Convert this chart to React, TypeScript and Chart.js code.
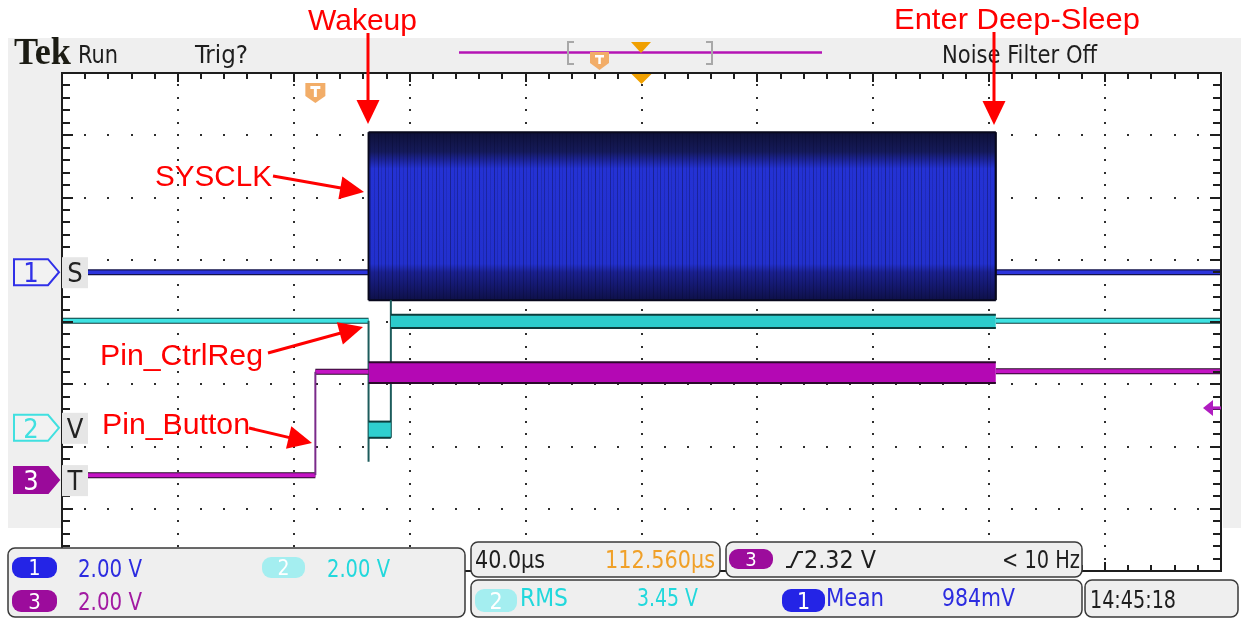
import React, { useEffect, useRef } from 'react';
import { Chart, registerables } from 'chart.js';

Chart.register(...registerables);

// ---------------- scope settings ----------------
const TIME_PER_DIV_US = 40;
const H_DIVS = 10;
const V_DIVS = 8;
const MINOR_PER_DIV = 5;
const VOLTS_PER_DIV = 2;
const T_MIN = -(TIME_PER_DIV_US * H_DIVS) / 2;
const T_MAX = (TIME_PER_DIV_US * H_DIVS) / 2;
const EXPANSION_POINT_US = 0;
const TRIGGER_TIME_US = -112.56;
const TRIGGER_LEVEL_V = 2.32;

// channel ground positions (divisions from screen centre)
const CH1_POS_DIV = 0.8;
const CH2_POS_DIV = -1.7;
const CH3_POS_DIV = -2.54;

// ---------------- Channel 1 : SYSCLK ----------------
const CH1_IDLE_T = [-200, 200];
const CH1_IDLE_V = [0, 0];
const CH1_BURST_T = [-94.2, 122.3];
const CH1_BURST_MAX_V = [4.5, 4.5];
const CH1_BURST_MIN_V = [-0.9, -0.9];
const CH1_BURST_CORE_MAX_V = [3.6, 3.6];
const CH1_BURST_CORE_MIN_V = [0.0, 0.0];

// ---------------- Channel 2 : Pin_CtrlReg ----------------
const CH2_BEFORE_T = [-200, -94.2];
const CH2_BEFORE_V = [3.44, 3.44];
const CH2_FALL_T = [-94.2, -94.2];
const CH2_FALL_V = [3.44, -1.09];
const CH2_LOW_T = [-94.2, -86.5];
const CH2_LOW_MAX_V = [0.2, 0.2];
const CH2_LOW_MIN_V = [-0.32, -0.32];
const CH2_RISE_T = [-86.5, -86.5];
const CH2_RISE_V = [-0.32, 4.11];
const CH2_ACTIVE_T = [-86.5, 122.3];
const CH2_ACTIVE_MAX_V = [3.63, 3.63];
const CH2_ACTIVE_MIN_V = [3.21, 3.21];
const CH2_AFTER_T = [122.3, 200];
const CH2_AFTER_V = [3.44, 3.44];

// ---------------- Channel 3 : Pin_Button ----------------
const CH3_BEFORE_T = [-200, -112.56];
const CH3_BEFORE_V = [0.16, 0.16];
const CH3_RISE_T = [-112.56, -112.56];
const CH3_RISE_V = [0.16, 3.48];
const CH3_HIGH_T = [-112.56, -94.2];
const CH3_HIGH_V = [3.48, 3.48];
const CH3_ACTIVE_T = [-94.2, 122.3];
const CH3_ACTIVE_MAX_V = [3.79, 3.79];
const CH3_ACTIVE_MIN_V = [3.12, 3.12];
const CH3_AFTER_T = [122.3, 200];
const CH3_AFTER_V = [3.5, 3.5];

// ---------------- layout ----------------
const W = 1241;
const H = 619;
const PLOT = { left: 62, top: 73, right: 1221, bottom: 571 };
const SCOPE_FONT = "'DejaVu Sans Condensed', 'DejaVu Sans', sans-serif";
const ANNOT_FONT = "'Liberation Sans', Arial, sans-serif";
const RED = '#ff0000';

const pyDiv = (d: number) => PLOT.top + ((V_DIVS / 2 - d) / V_DIVS) * (PLOT.bottom - PLOT.top);

const seg = (ts: number[], vs: number[], pos: number) =>
  ts.map((t, i) => ({ x: t, y: pos + vs[i] / VOLTS_PER_DIV }));

function makeStripePattern(ctx: CanvasRenderingContext2D) {
  const c = document.createElement('canvas');
  c.width = 29;
  c.height = 4;
  const g = c.getContext('2d')!;
  const cols: [number, number][] = [
    [1, 0.35], [4, 0.15], [8, 0.3], [11, 0.12], [15, 0.4], [19, 0.18], [22, 0.3], [26, 0.15],
  ];
  cols.forEach(([x, a]) => {
    g.fillStyle = `rgba(8,10,50,${a})`;
    g.fillRect(x, 0, 1, 4);
  });
  return ctx.createPattern(c, 'repeat');
}

const scopePlugin = {
  id: 'scopeGraticule',
  beforeDraw(chart: any) {
    const { ctx, chartArea: a } = chart;
    ctx.save();
    ctx.fillStyle = '#ffffff';
    ctx.fillRect(a.left, a.top, a.right - a.left, a.bottom - a.top);
    ctx.restore();
  },
  beforeDatasetsDraw(chart: any) {
    const { ctx, scales } = chart;
    const x = scales.x;
    const y = scales.y;
    ctx.save();
    ctx.fillStyle = '#2e2e2e';
    const minorT = TIME_PER_DIV_US / MINOR_PER_DIV;
    const minorD = 1 / MINOR_PER_DIV;
    for (let i = 1; i < H_DIVS; i++) {
      const xp = Math.round(x.getPixelForValue(T_MIN + i * TIME_PER_DIV_US));
      for (let j = 1; j < V_DIVS * MINOR_PER_DIV; j++) {
        const yp = Math.round(y.getPixelForValue(-V_DIVS / 2 + j * minorD));
        ctx.fillRect(xp - 1, yp - 1, 2, 2);
      }
    }
    for (let j = 1; j < V_DIVS; j++) {
      const yp = Math.round(y.getPixelForValue(-V_DIVS / 2 + j));
      for (let i = 1; i < H_DIVS * MINOR_PER_DIV; i++) {
        const xp = Math.round(x.getPixelForValue(T_MIN + i * minorT));
        ctx.fillRect(xp - 1, yp - 1, 2, 2);
      }
    }
    ctx.restore();
  },
  afterDatasetsDraw(chart: any) {
    const { ctx, chartArea: a, scales } = chart;
    const x = scales.x;
    const y = scales.y;
    ctx.save();
    ctx.strokeStyle = '#1e1e1e';
    ctx.lineWidth = 2;
    ctx.beginPath();
    const minorT = TIME_PER_DIV_US / MINOR_PER_DIV;
    for (let i = 1; i < H_DIVS * MINOR_PER_DIV; i++) {
      const xp = Math.round(x.getPixelForValue(T_MIN + i * minorT));
      const len = i % MINOR_PER_DIV === 0 ? 9 : 6;
      ctx.moveTo(xp, a.top);
      ctx.lineTo(xp, a.top + len);
      ctx.moveTo(xp, a.bottom);
      ctx.lineTo(xp, a.bottom - len);
    }
    for (let j = 1; j < V_DIVS * MINOR_PER_DIV; j++) {
      const yp = Math.round(y.getPixelForValue(-V_DIVS / 2 + j / MINOR_PER_DIV));
      const len = j % MINOR_PER_DIV === 0 ? 11 : 8;
      ctx.moveTo(a.left, yp);
      ctx.lineTo(a.left + len, yp);
      ctx.moveTo(a.right, yp);
      ctx.lineTo(a.right - len, yp);
    }
    ctx.stroke();
    ctx.strokeRect(a.left, a.top, a.right - a.left, a.bottom - a.top);

    // expansion point triangle
    const xe = x.getPixelForValue(EXPANSION_POINT_US);
    ctx.fillStyle = '#f0a000';
    ctx.beginPath();
    ctx.moveTo(xe - 10, a.top + 1);
    ctx.lineTo(xe + 10, a.top + 1);
    ctx.lineTo(xe, a.top + 11);
    ctx.closePath();
    ctx.fill();

    // trigger position marker
    const xt = x.getPixelForValue(TRIGGER_TIME_US);
    const t0 = a.top + 10;
    ctx.fillStyle = '#f2ad68';
    ctx.beginPath();
    ctx.moveTo(xt - 10, t0);
    ctx.lineTo(xt + 10, t0);
    ctx.lineTo(xt + 10, t0 + 13);
    ctx.lineTo(xt, t0 + 20);
    ctx.lineTo(xt - 10, t0 + 13);
    ctx.closePath();
    ctx.fill();
    ctx.fillStyle = '#ffffff';
    ctx.fillRect(xt - 5, t0 + 3, 10, 3);
    ctx.fillRect(xt - 1.5, t0 + 3, 3, 11);

    // trigger level arrow (channel 3)
    const yl = y.getPixelForValue(CH3_POS_DIV + TRIGGER_LEVEL_V / VOLTS_PER_DIV);
    ctx.fillStyle = '#b01cc0';
    ctx.beginPath();
    ctx.moveTo(a.right - 18, yl);
    ctx.lineTo(a.right - 8, yl - 8);
    ctx.lineTo(a.right - 8, yl + 8);
    ctx.closePath();
    ctx.fill();
    ctx.fillRect(a.right - 9, yl - 1.5, 9, 3);
    ctx.restore();
  },
};

const Txt = ({ x, y, w, size = 24, fill = '#1e1e1e', family = SCOPE_FONT, weight = 'normal', children }: any) => (
  <text
    x={x}
    y={y}
    textLength={w}
    lengthAdjust="spacingAndGlyphs"
    fontSize={size}
    fill={fill}
    fontFamily={family}
    fontWeight={weight}
  >
    {children}
  </text>
);

const Pill = ({ x, y, w, h, fill, label }: any) => (
  <g>
    <rect x={x} y={y} width={w} height={h} rx={9} ry={9} fill={fill} />
    <text x={x + w / 2} y={y + h - 3} textAnchor="middle" fontSize={h} fill="#ffffff" fontFamily={SCOPE_FONT}>
      {label}
    </text>
  </g>
);

const Arrow = ({ x1, y1, x2, y2, head = 24, width = 23 }: any) => {
  const dx = x2 - x1;
  const dy = y2 - y1;
  const L = Math.hypot(dx, dy);
  const ux = dx / L;
  const uy = dy / L;
  const bx = x2 - ux * head;
  const by = y2 - uy * head;
  const nx = (-uy * width) / 2;
  const ny = (ux * width) / 2;
  return (
    <g>
      <line x1={x1} y1={y1} x2={bx + ux * 2} y2={by + uy * 2} stroke={RED} strokeWidth={3} />
      <polygon points={`${x2},${y2} ${bx + nx},${by + ny} ${bx - nx},${by - ny}`} fill={RED} />
    </g>
  );
};

const ChMarker = ({ ch, yc, color, filled, label }: any) => {
  const top = yc - 13;
  const bot = yc + 13;
  return (
    <g>
      <polygon
        points={`14,${top} 48,${top} 59,${yc} 48,${bot} 14,${bot}`}
        fill={filled ? color : '#f2f2f2'}
        stroke={color}
        strokeWidth={2}
      />
      <text x={31} y={yc + 10} textAnchor="middle" fontSize={27} fill={filled ? '#ffffff' : color} fontFamily={SCOPE_FONT}>
        {ch}
      </text>
      <rect x={62} y={yc - 15} width={26} height={31} fill="#e6e6e6" />
      <text x={75} y={yc + 10} textAnchor="middle" fontSize={27} fill="#222222" fontFamily={SCOPE_FONT}>
        {label}
      </text>
    </g>
  );
};

export default function App() {
  const canvasRef = useRef<HTMLCanvasElement>(null);

  useEffect(() => {
    const canvas = canvasRef.current;
    if (!canvas) return;
    const c2d = canvas.getContext('2d')!;
    const stripes = makeStripePattern(c2d);

    const burstFill = (ctx: any) => {
      const chart = ctx.chart;
      if (!chart.chartArea) return '#2230c8';
      const ys = chart.scales.y;
      const yTop = ys.getPixelForValue(CH1_POS_DIV + CH1_BURST_MAX_V[0] / VOLTS_PER_DIV);
      const yBot = ys.getPixelForValue(CH1_POS_DIV + CH1_BURST_MIN_V[0] / VOLTS_PER_DIV);
      const yc1 = ys.getPixelForValue(CH1_POS_DIV + CH1_BURST_CORE_MAX_V[0] / VOLTS_PER_DIV);
      const yc2 = ys.getPixelForValue(CH1_POS_DIV + CH1_BURST_CORE_MIN_V[0] / VOLTS_PER_DIV);
      const f1 = (yc1 - yTop) / (yBot - yTop);
      const f2 = (yc2 - yTop) / (yBot - yTop);
      const g = chart.ctx.createLinearGradient(0, yTop, 0, yBot);
      g.addColorStop(0, '#0e1038');
      g.addColorStop(f1 * 0.7, '#151a5a');
      g.addColorStop(f1, '#1c2498');
      g.addColorStop(f1 + 0.05, '#2432d4');
      g.addColorStop(f2 - 0.05, '#2230ce');
      g.addColorStop(f2, '#1a2090');
      g.addColorStop(1, '#0e1048');
      return g;
    };

    const ds: any[] = [];
    const add = (d: any) => {
      ds.push({
        type: 'line',
        pointRadius: 0,
        pointHoverRadius: 0,
        tension: 0,
        fill: false,
        borderCapStyle: 'butt',
        borderJoinStyle: 'miter',
        ...d,
      });
      return ds.length - 1;
    };

    // channel 1 idle
    add({ data: seg(CH1_IDLE_T, CH1_IDLE_V, CH1_POS_DIV), borderColor: '#12124a', borderWidth: 6, order: 100 });
    add({ data: seg(CH1_IDLE_T, CH1_IDLE_V, CH1_POS_DIV), borderColor: '#2c34dc', borderWidth: 3.5, order: 99 });
    // channel 1 burst
    const burstTop = add({ data: seg(CH1_BURST_T, CH1_BURST_MAX_V, CH1_POS_DIV), borderColor: '#08081c', borderWidth: 2, order: 94 });
    add({
      data: seg(CH1_BURST_T, CH1_BURST_MIN_V, CH1_POS_DIV),
      borderColor: '#08081c',
      borderWidth: 2,
      fill: burstTop,
      backgroundColor: burstFill,
      order: 97,
    });
    add({
      data: seg(CH1_BURST_T, CH1_BURST_MIN_V, CH1_POS_DIV),
      borderColor: 'rgba(0,0,0,0)',
      borderWidth: 0,
      fill: burstTop,
      backgroundColor: stripes || 'rgba(0,0,0,0)',
      order: 96,
    });
    add({
      data: seg([CH1_BURST_T[0], CH1_BURST_T[0]], [CH1_BURST_MIN_V[0], CH1_BURST_MAX_V[0]], CH1_POS_DIV),
      borderColor: '#08081c',
      borderWidth: 2,
      order: 93,
    });
    add({
      data: seg([CH1_BURST_T[1], CH1_BURST_T[1]], [CH1_BURST_MIN_V[1], CH1_BURST_MAX_V[1]], CH1_POS_DIV),
      borderColor: '#08081c',
      borderWidth: 2,
      order: 93,
    });

    // channel 2
    const cyanDark = '#0c3c3c';
    const cyan = '#3ee2e2';
    add({ data: seg(CH2_BEFORE_T, CH2_BEFORE_V, CH2_POS_DIV), borderColor: cyanDark, borderWidth: 6, order: 80 });
    add({ data: seg(CH2_BEFORE_T, CH2_BEFORE_V, CH2_POS_DIV), borderColor: cyan, borderWidth: 4, order: 79 });
    add({ data: seg(CH2_AFTER_T, CH2_AFTER_V, CH2_POS_DIV), borderColor: cyanDark, borderWidth: 6, order: 80 });
    add({ data: seg(CH2_AFTER_T, CH2_AFTER_V, CH2_POS_DIV), borderColor: cyan, borderWidth: 4, order: 79 });
    add({ data: seg(CH2_FALL_T, CH2_FALL_V, CH2_POS_DIV), borderColor: '#1d5c5c', borderWidth: 2, order: 78 });
    add({ data: seg(CH2_RISE_T, CH2_RISE_V, CH2_POS_DIV), borderColor: '#1d5c5c', borderWidth: 2, order: 78 });
    const lowTop = add({ data: seg(CH2_LOW_T, CH2_LOW_MAX_V, CH2_POS_DIV), borderColor: cyanDark, borderWidth: 2, order: 75 });
    add({
      data: seg(CH2_LOW_T, CH2_LOW_MIN_V, CH2_POS_DIV),
      borderColor: cyanDark,
      borderWidth: 2,
      fill: lowTop,
      backgroundColor: '#2fcfcf',
      order: 76,
    });
    const actTop = add({ data: seg(CH2_ACTIVE_T, CH2_ACTIVE_MAX_V, CH2_POS_DIV), borderColor: cyanDark, borderWidth: 2, order: 75 });
    add({
      data: seg(CH2_ACTIVE_T, CH2_ACTIVE_MIN_V, CH2_POS_DIV),
      borderColor: cyanDark,
      borderWidth: 2,
      fill: actTop,
      backgroundColor: '#2ccccc',
      order: 76,
    });

    // channel 3
    const magDark = '#2a0a2a';
    const mag = '#c414c4';
    add({ data: seg(CH3_BEFORE_T, CH3_BEFORE_V, CH3_POS_DIV), borderColor: magDark, borderWidth: 6, order: 70 });
    add({ data: seg(CH3_BEFORE_T, CH3_BEFORE_V, CH3_POS_DIV), borderColor: mag, borderWidth: 4, order: 69 });
    add({ data: seg(CH3_HIGH_T, CH3_HIGH_V, CH3_POS_DIV), borderColor: magDark, borderWidth: 6, order: 70 });
    add({ data: seg(CH3_HIGH_T, CH3_HIGH_V, CH3_POS_DIV), borderColor: mag, borderWidth: 4, order: 69 });
    add({ data: seg(CH3_AFTER_T, CH3_AFTER_V, CH3_POS_DIV), borderColor: magDark, borderWidth: 6, order: 70 });
    add({ data: seg(CH3_AFTER_T, CH3_AFTER_V, CH3_POS_DIV), borderColor: mag, borderWidth: 4, order: 69 });
    add({ data: seg(CH3_RISE_T, CH3_RISE_V, CH3_POS_DIV), borderColor: '#7a2a8a', borderWidth: 2, order: 68 });
    const m3Top = add({ data: seg(CH3_ACTIVE_T, CH3_ACTIVE_MAX_V, CH3_POS_DIV), borderColor: magDark, borderWidth: 2, order: 65 });
    add({
      data: seg(CH3_ACTIVE_T, CH3_ACTIVE_MIN_V, CH3_POS_DIV),
      borderColor: magDark,
      borderWidth: 2,
      fill: m3Top,
      backgroundColor: '#b408b4',
      order: 66,
    });

    const chart = new Chart(canvas, {
      type: 'line',
      data: { datasets: ds },
      options: {
        animation: false,
        responsive: false,
        maintainAspectRatio: false,
        devicePixelRatio: 1,
        layout: {
          padding: { left: PLOT.left, top: PLOT.top, right: W - PLOT.right, bottom: H - PLOT.bottom },
        },
        scales: {
          x: { type: 'linear', min: T_MIN, max: T_MAX, display: false },
          y: { type: 'linear', min: -V_DIVS / 2, max: V_DIVS / 2, display: false },
        },
        plugins: { legend: { display: false }, tooltip: { enabled: false } },
        events: [],
      },
      plugins: [scopePlugin],
    } as any);
    return () => chart.destroy();
  }, []);

  const gray = '#efefef';
  const boxStroke = '#3a3a3a';

  return (
    <div style={{ position: 'absolute', left: 0, top: 0, width: W, height: H, background: '#ffffff', overflow: 'hidden' }}>
      <canvas ref={canvasRef} width={W} height={H} style={{ position: 'absolute', left: 0, top: 0, width: W, height: H }} />
      <svg width={W} height={H} style={{ position: 'absolute', left: 0, top: 0, pointerEvents: 'none' }}>
        {/* scope frame background */}
        <rect x={8} y={38} width={W - 8} height={34} fill={gray} />
        <rect x={8} y={38} width={53} height={490} fill={gray} />
        <rect x={1223} y={38} width={18} height={490} fill={gray} />

        {/* top status bar */}
        <Txt x={14} y={64} w={57} size={37} weight="bold" family="'Liberation Serif', 'DejaVu Serif', serif" fill="#1c1c14">
          Tek
        </Txt>
        <Txt x={78} y={63} w={40} weight="500">Run</Txt>
        <Txt x={195} y={63} w={53} weight="500">Trig?</Txt>
        <line x1={459} y1={52.5} x2={822} y2={52.5} stroke="#b414b4" strokeWidth={2.5} />
        <path d="M574,42 L568,42 L568,64 L574,64" stroke="#a8a8a8" strokeWidth={2} fill="none" />
        <path d="M706,42 L712,42 L712,64 L706,64" stroke="#a8a8a8" strokeWidth={2} fill="none" />
        <polygon points="590,52 609,52 609,63 599.5,70 590,63" fill="#f2ad68" />
        <rect x={595} y={55} width={9} height={2.5} fill="#ffffff" />
        <rect x={598.3} y={55} width={2.5} height={9} fill="#ffffff" />
        <polygon points="631,42 651,42 641,53" fill="#f0a000" />
        <Txt x={942} y={63} w={155}>Noise Filter Off</Txt>

        {/* channel markers */}
        <ChMarker ch="1" yc={pyDiv(CH1_POS_DIV)} color="#3030e8" label="S" />
        <ChMarker ch="2" yc={pyDiv(CH2_POS_DIV)} color="#40e0e0" label="V" />
        <ChMarker ch="3" yc={pyDiv(CH3_POS_DIV)} color="#9a0a9a" filled label="T" />

        {/* bottom readouts */}
        <rect x={8} y={548} width={457} height={69} rx={7} fill={gray} stroke={boxStroke} strokeWidth={1.5} />
        <Pill x={12} y={557} w={45} h={21} fill="#2424e6" label="1" />
        <Txt x={78} y={577} w={64} size={25} fill="#2c2ce0">2.00 V</Txt>
        <Pill x={262} y={557} w={43} h={21} fill="#a4eef0" label="2" />
        <Txt x={327} y={577} w={63} size={25} fill="#22d8dc">2.00 V</Txt>
        <Pill x={12} y={590} w={45} h={22} fill="#9c0c9c" label="3" />
        <Txt x={78} y={610} w={64} size={25} fill="#a21aa2">2.00 V</Txt>

        <rect x={471} y={542} width={249} height={35} rx={7} fill={gray} stroke={boxStroke} strokeWidth={1.5} />
        <Txt x={475} y={568} w={70} size={25}>40.0µs</Txt>
        <Txt x={605} y={568} w={110} size={25} fill="#f0a028">112.560µs</Txt>

        <rect x={726} y={542} width={356} height={35} rx={7} fill={gray} stroke={boxStroke} strokeWidth={1.5} />
        <Pill x={729} y={549} w={44} h={20} fill="#9c0c9c" label="3" />
        <path d="M786,567 L791,567 L798,552 L803,552" stroke="#1e1e1e" strokeWidth={2} fill="none" />
        <Txt x={804} y={568} w={72} size={25}>2.32 V</Txt>
        <Txt x={1002} y={568} w={78} size={25}>&lt; 10 Hz</Txt>

        <rect x={471} y={580} width={611} height={37} rx={7} fill={gray} stroke={boxStroke} strokeWidth={1.5} />
        <Pill x={475} y={589} w={42} h={23} fill="#a4eef0" label="2" />
        <Txt x={520} y={606} w={48} size={25} fill="#22d8dc">RMS</Txt>
        <Txt x={637} y={606} w={61} size={25} fill="#22d8dc">3.45 V</Txt>
        <Pill x={782} y={589} w={43} h={23} fill="#2424e6" label="1" />
        <Txt x={826} y={606} w={58} size={25} fill="#2c2ce0">Mean</Txt>
        <Txt x={942} y={606} w={73} size={25} fill="#2c2ce0">984mV</Txt>

        <rect x={1085} y={580} width={153} height={37} rx={7} fill={gray} stroke={boxStroke} strokeWidth={1.5} />
        <Txt x={1090} y={608} w={86} size={25}>14:45:18</Txt>

        {/* red annotations */}
        <Txt x={308} y={30} w={109} size={29} fill={RED} family={ANNOT_FONT}>Wakeup</Txt>
        <Txt x={894} y={29} w={246} size={29} fill={RED} family={ANNOT_FONT}>Enter Deep-Sleep</Txt>
        <Txt x={155} y={186} w={117} size={29} fill={RED} family={ANNOT_FONT}>SYSCLK</Txt>
        <Txt x={100} y={365} w={163} size={29} fill={RED} family={ANNOT_FONT}>Pin_CtrlReg</Txt>
        <Txt x={102} y={434} w={148} size={29} fill={RED} family={ANNOT_FONT}>Pin_Button</Txt>
        <Arrow x1={368} y1={33} x2={368} y2={124} />
        <Arrow x1={994} y1={32} x2={994} y2={125} />
        <Arrow x1={273} y1={176} x2={364} y2={192} />
        <Arrow x1={268} y1={353} x2={363} y2={327} />
        <Arrow x1={249} y1={428} x2={312} y2={443} />
      </svg>
    </div>
  );
}
